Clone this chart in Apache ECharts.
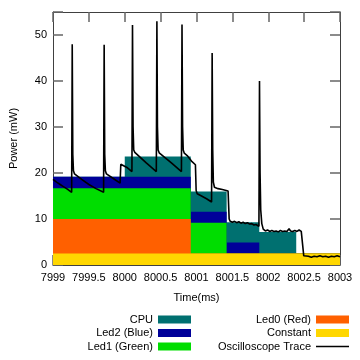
<!DOCTYPE html>
<html><head><meta charset="utf-8">
<script src="https://cdn.jsdelivr.net/npm/echarts@6/dist/echarts.min.js"></script>
<style>html,body{margin:0;padding:0;background:#fff}#c{width:360px;height:360px}</style>
</head><body><div id="c"></div>
<script>
// Segment start times for stacked power components (step, value holds until next time)
const segT     = [7999, 8000, 8000.92, 8001.42, 8001.875, 8002.39, 8003];
const constant = [2.5, 2.5, 2.5, 2.5, 2.5, 2.5, 2.5];
const led0Red  = [7.5, 7.5, 0, 0, 0, 0, 0];
const led1Green= [6.7, 6.7, 6.7, 0, 0, 0, 0];
const led2Blue = [2.5, 2.5, 2.4, 2.4, 0, 0, 0];
const cpu      = [0, 4.4, 4.4, 4.4, 4.7, 0, 0];

// Oscilloscope trace
const traceT = [
 7999.00,7999.05,7999.10,7999.15,7999.20,7999.26,7999.268,7999.276,7999.285,7999.30,
 7999.40,7999.50,7999.60,7999.705,7999.713,7999.721,7999.73,7999.745,7999.85,7999.935,
 7999.945,7999.96,8000.03,8000.10,8000.108,8000.116,8000.125,8000.14,8000.16,8000.30,
 8000.44,8000.448,8000.456,8000.465,8000.48,8000.50,8000.65,8000.79,8000.798,8000.806,
 8000.815,8000.83,8000.87,8000.93,8000.985,8000.995,8001.01,8001.07,8001.14,8001.21,
 8001.218,8001.226,8001.235,8001.25,8001.30,8001.36,8001.44,8001.455,8001.47,8001.50,
 8001.53,8001.56,8001.59,8001.62,8001.65,8001.68,8001.71,8001.74,8001.77,8001.80,
 8001.83,8001.87,8001.878,8001.886,8001.895,8001.91,8001.93,8001.96,8001.99,8002.02,
 8002.05,8002.08,8002.11,8002.14,8002.17,8002.20,8002.23,8002.26,8002.29,8002.31,
 8002.34,8002.37,8002.40,8002.43,8002.46,8002.48,8002.495,8002.52,8002.56,8002.60,
 8002.64,8002.68,8002.72,8002.76,8002.80,8002.84,8002.88,8002.92,8002.96,8003.00
];
const traceP = [
 18.6,18.0,17.5,17.0,16.5,15.8,48.0,24.0,20.5,19.8,
 18.6,17.5,16.6,15.8,47.9,24.0,20.5,19.8,18.7,17.8,
 21.9,22.1,21.2,20.3,52.2,30.0,25.0,24.5,24.2,22.2,
 20.3,53.0,30.0,25.0,24.4,24.0,22.2,20.3,52.3,30.0,
 25.0,24.3,23.8,22.6,21.8,16.2,15.5,15.0,14.4,13.7,
 46.1,25.0,18.0,16.9,16.6,16.4,16.1,10.0,9.5,9.3,
 9.5,9.2,9.4,9.1,9.3,9.0,9.2,8.9,9.0,8.7,
 8.8,8.4,40.0,20.0,12.0,9.0,7.8,7.4,7.6,7.3,
 7.5,7.3,7.4,7.2,7.5,7.3,7.4,7.3,7.9,7.4,
 7.3,7.5,7.3,7.6,7.3,7.2,2.0,1.8,1.9,1.7,
 1.9,1.8,2.0,1.8,1.9,1.7,1.9,1.8,2.0,1.8
];

const xTicks = [7999, 7999.5, 8000, 8000.5, 8001, 8001.5, 8002, 8002.5, 8003];
const yTicks = [0, 10, 20, 30, 40, 50];

const FONT = 'Liberation Sans, Arial, sans-serif';
// Stack layers bottom-to-top, then cumulative tops (table built from the arrays above)
const layers = [
  { name: 'Constant', values: constant, color: '#ffd700' },
  { name: 'Led0 (Red)', values: led0Red, color: '#ff6000' },
  { name: 'Led1 (Green)', values: led1Green, color: '#00dd00' },
  { name: 'Led2 (Blue)', values: led2Blue, color: '#000099' },
  { name: 'CPU', values: cpu, color: '#007070' }
];
const running = segT.map(() => 0);
const cumulative = layers.map(l => {
  const tops = l.values.map((v, i) => (running[i] += v));
  return { name: l.name, color: l.color, tops: tops.slice() };
});
// Draw top layer first so lower layers paint over it
const areaSeries = cumulative.slice().reverse().map(l => ({
  name: l.name, type: 'line', step: 'end', data: segT.map((t, i) => [t, l.tops[i]]),
  symbol: 'none', showSymbol: false, color: l.color,
  lineStyle: { width: 0, color: l.color }, areaStyle: { color: l.color, opacity: 1, origin: 'start' },
  z: 2, silent: true
}));

const mkTick = () => ({ show: true, inside: true, length: 10, lineStyle: { color: '#666', width: 1.5 } });
const mkLine = () => ({ show: true, onZero: false, lineStyle: { color: '#404040', width: 1 } });
const xLab = v => xTicks.indexOf(v) >= 0 ? String(v) : '';
const yLab = v => yTicks.indexOf(v) >= 0 ? String(v) : '';
const chart = echarts.init(document.getElementById('c'));
chart.setOption({
  animation: false,
  backgroundColor: '#fff',
  grid: { left: 52, top: 12, width: 288, height: 253 },
  xAxis: [
    { type: 'value', min: 7999, max: 8003, interval: 0.5, position: 'bottom',
      name: 'Time(ms)', nameLocation: 'middle', nameGap: 27,
      nameTextStyle: { fontSize: 11, color: '#000', fontFamily: FONT },
      axisLine: mkLine(), splitLine: { show: false },
      axisTick: mkTick(),
      axisLabel: { formatter: xLab, fontSize: 11, color: '#000', fontFamily: FONT, margin: 7 } },
    { type: 'value', min: 7999, max: 8003, interval: 0.5, position: 'top',
      axisLine: mkLine(), splitLine: { show: false },
      axisTick: mkTick(), axisLabel: { show: false } }
  ],
  yAxis: [
    { type: 'value', min: 0, max: 55, interval: 10, position: 'left',
      name: 'Power (mW)', nameLocation: 'middle', nameGap: 34,
      nameTextStyle: { fontSize: 11, color: '#000', fontFamily: FONT },
      axisLine: mkLine(), splitLine: { show: false },
      axisTick: mkTick(),
      axisLabel: { formatter: yLab, fontSize: 11, color: '#000', fontFamily: FONT, margin: 6 } },
    { type: 'value', min: 0, max: 55, interval: 10, position: 'right',
      axisLine: mkLine(), splitLine: { show: false },
      axisTick: mkTick(), axisLabel: { show: false } }
  ],
  legend: [
    { orient: 'vertical', align: 'right', right: 169, top: 314, padding: 0, itemGap: 2.5,
      itemWidth: 33, itemHeight: 8, icon: 'rect', selectedMode: false,
      textStyle: { fontSize: 11, color: '#000', fontFamily: FONT, lineHeight: 11 },
      data: ['CPU', 'Led2 (Blue)', 'Led1 (Green)'] },
    { orient: 'vertical', align: 'right', right: 11, top: 314, padding: 0, itemGap: 2.5,
      itemWidth: 33, itemHeight: 8, icon: 'rect', selectedMode: false,
      textStyle: { fontSize: 11, color: '#000', fontFamily: FONT, lineHeight: 11 },
      data: ['Led0 (Red)', 'Constant',
        { name: 'Oscilloscope Trace', icon: 'path://M0,0H33V1.5H0Z', itemStyle: { color: '#000', borderWidth: 0 } }] }
  ],
  series: areaSeries.concat([
    { name: 'Oscilloscope Trace', type: 'line', data: traceT.map((t, i) => [t, traceP[i]]),
      symbol: 'none', showSymbol: false, color: '#000',
      lineStyle: { color: '#000', width: 1.6 }, z: 5, silent: true }
  ])
});
</script>
</body></html>
